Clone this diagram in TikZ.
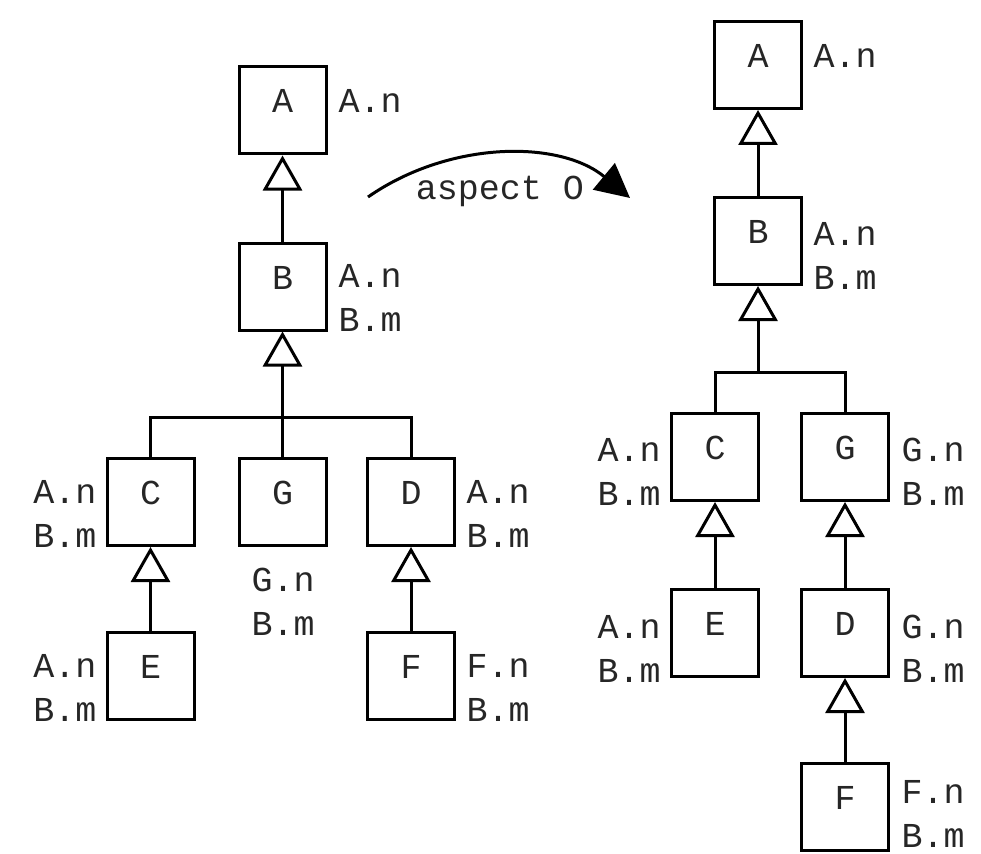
\documentclass[tikz,border=0pt]{standalone}
\usepackage{fontspec}
\setmainfont{Liberation Mono}
\usetikzlibrary{arrows.meta}
\begin{document}
\begin{tikzpicture}[x=1pt,y=-1pt,line width=3pt,
  cls/.style={draw=black,minimum size=87pt,inner sep=0pt,
    font=\fontsize{35}{35}\selectfont,text height=21pt,text depth=16pt,text=black!85},
  lbl/.style={font=\fontsize{35}{44}\selectfont,align=left,inner sep=0pt,text=black!85},
  gen/.style={-{Triangle[open,length=35pt,width=39pt]}}]
\useasboundingbox (0,0) rectangle (981,853);

% ---------- original hierarchy ----------
\node[cls] (A1) at (282.5,110.5) {A};
\node[cls] (B1) at (282.5,286.5) {B};
\node[cls] (C1) at (150.5,502) {C};
\node[cls] (G1) at (282.5,502) {G};
\node[cls] (D1) at (411,502) {D};
\node[cls] (E1) at (150.5,676) {E};
\node[cls] (F1) at (411,676) {F};
\coordinate (bar1) at (282.5,417);

\draw[gen] (B1.north) -- (A1.south);
\draw[gen] (bar1) -- (B1.south);
\draw (C1.north) |- (bar1) -| (D1.north);
\draw (G1.north) -- (bar1);
\draw[gen] (E1.north) -- (C1.south);
\draw[gen] (F1.north) -- (D1.south);

% multi-line labels: the base anchor sits on the last line
\node[lbl,anchor=base west] (lA1) at (337,113) {A.n};
\node[lbl,anchor=base west] (lB1) at (337,331) {A.n\\B.m};
\node[lbl,anchor=base east] (lC1) at (98,547) {A.n\\B.m};
\node[lbl,anchor=base west] (lG1) at (250,635) {G.n\\B.m};
\node[lbl,anchor=base west] (lD1) at (465,547) {A.n\\B.m};
\node[lbl,anchor=base east] (lE1) at (98,721) {A.n\\B.m};
\node[lbl,anchor=base west] (lF1) at (465,721) {F.n\\B.m};

% ---------- woven hierarchy ----------
\node[cls] (A2) at (758,65) {A};
\node[cls] (B2) at (758,241) {B};
\node[cls] (C2) at (715,457) {C};
\node[cls] (G2) at (845,457) {G};
\node[cls] (E2) at (715,633) {E};
\node[cls] (D2) at (845,633) {D};
\node[cls] (F2) at (845,807) {F};
\coordinate (bar2) at (758,372);

\draw[gen] (B2.north) -- (A2.south);
\draw[gen] (bar2) -- (B2.south);
\draw (C2.north) |- (bar2) -| (G2.north);
\draw[gen] (E2.north) -- (C2.south);
\draw[gen] (D2.north) -- (G2.south);
\draw[gen] (F2.north) -- (D2.south);

\node[lbl,anchor=base west] (lA2) at (812,68) {A.n};
\node[lbl,anchor=base west] (lB2) at (812,289) {A.n\\B.m};
\node[lbl,anchor=base east] (lC2) at (662,505) {A.n\\B.m};
\node[lbl,anchor=base west] (lG2) at (900,505) {G.n\\B.m};
\node[lbl,anchor=base east] (lE2) at (662,682) {A.n\\B.m};
\node[lbl,anchor=base west] (lD2) at (900,682) {G.n\\B.m};
\node[lbl,anchor=base west,text depth=0pt] (lF2) at (900,847) {F.n\\B.m};

% ---------- weaving arrow ----------
\coordinate (wS) at (368,197);
\coordinate (wE) at (630,198);
\draw[-{Triangle[length=34pt,width=34pt]}] (wS) .. controls (450,140) and (560,140) .. (wE);
\node[lbl,anchor=base] (asp) at (500,199) {aspect O};
\end{tikzpicture}
\end{document}
